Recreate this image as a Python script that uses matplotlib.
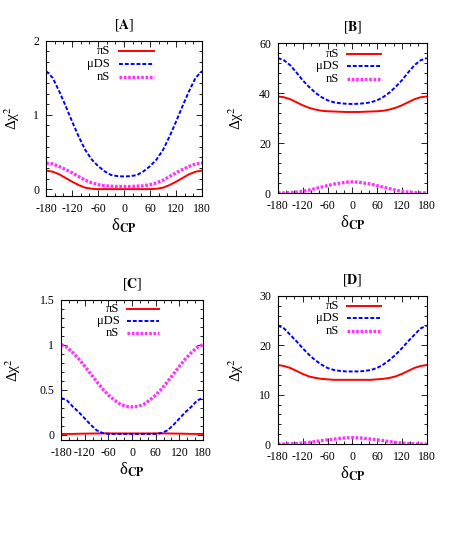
import matplotlib
matplotlib.use("Agg")
import matplotlib.pyplot as plt
from matplotlib.ticker import MultipleLocator, AutoMinorLocator, FuncFormatter

plt.rcParams['font.family'] = ['Liberation Serif', 'DejaVu Serif']
plt.rcParams['mathtext.fontset'] = 'stix'
plt.rcParams['axes.unicode_minus'] = False

# delta_CP grid (degrees)
delta = [-180, -165, -150, -135, -120, -105, -90, -75, -60, -45, -30, -15, 0,
         15, 30, 45, 60, 75, 90, 105, 120, 135, 150, 165, 180]

# panel A
a_piS = [0.25, 0.235, 0.20, 0.15, 0.10, 0.055, 0.02, 0.005, 0.0, 0.0, 0.0, 0.0, 0.0,
         0.0, 0.0, 0.0, 0.0, 0.005, 0.02, 0.055, 0.10, 0.15, 0.20, 0.235, 0.25]
a_muDS = [1.59, 1.50, 1.32, 1.12, 0.91, 0.71, 0.53, 0.40, 0.31, 0.24, 0.19, 0.175, 0.17,
          0.175, 0.19, 0.24, 0.31, 0.40, 0.53, 0.71, 0.91, 1.12, 1.32, 1.50, 1.59]
a_nS = [0.35, 0.34, 0.305, 0.265, 0.22, 0.17, 0.12, 0.085, 0.06, 0.045, 0.04, 0.035, 0.035,
        0.035, 0.04, 0.045, 0.06, 0.085, 0.12, 0.17, 0.22, 0.265, 0.305, 0.34, 0.35]

# panel B
b_piS = [38.7, 38.4, 37.6, 36.4, 35.2, 34.2, 33.5, 33.0, 32.8, 32.7, 32.6, 32.5, 32.5,
         32.5, 32.6, 32.7, 32.8, 33.0, 33.5, 34.2, 35.2, 36.4, 37.6, 38.4, 38.7]
b_muDS = [54.1, 53.2, 51.2, 48.3, 45.2, 42.6, 40.3, 38.5, 37.2, 36.4, 36.0, 35.8, 35.7,
          35.8, 36.0, 36.4, 37.2, 38.5, 40.3, 42.6, 45.2, 48.3, 51.2, 53.2, 54.1]
b_nS = [0.1, 0.1, 0.2, 0.4, 0.7, 1.2, 1.8, 2.4, 3.0, 3.6, 4.0, 4.4, 4.5,
        4.4, 4.0, 3.6, 3.0, 2.4, 1.8, 1.2, 0.7, 0.4, 0.2, 0.1, 0.1]

# panel C
c_piS = [0.01, 0.01, 0.01, 0.012, 0.013, 0.014, 0.015, 0.016, 0.016, 0.015, 0.015, 0.015, 0.015,
         0.015, 0.015, 0.015, 0.016, 0.016, 0.015, 0.014, 0.013, 0.012, 0.01, 0.01, 0.01]
c_muDS = [0.41, 0.38, 0.31, 0.25, 0.18, 0.11, 0.05, 0.02, 0.01, 0.01, 0.01, 0.01, 0.01,
          0.01, 0.01, 0.01, 0.01, 0.02, 0.05, 0.11, 0.18, 0.25, 0.31, 0.38, 0.41]
c_nS = [1.0, 0.97, 0.91, 0.84, 0.76, 0.675, 0.59, 0.51, 0.44, 0.385, 0.34, 0.315, 0.31,
        0.315, 0.34, 0.385, 0.44, 0.51, 0.59, 0.675, 0.76, 0.84, 0.91, 0.97, 1.0]

# panel D
d_piS = [16.0, 15.8, 15.4, 14.8, 14.2, 13.7, 13.4, 13.2, 13.1, 13.0, 13.0, 13.0, 13.0,
         13.0, 13.0, 13.0, 13.1, 13.2, 13.4, 13.7, 14.2, 14.8, 15.4, 15.8, 16.0]
d_muDS = [24.0, 23.4, 22.1, 20.8, 19.4, 18.1, 17.0, 16.1, 15.4, 15.0, 14.8, 14.7, 14.7,
          14.7, 14.8, 15.0, 15.4, 16.1, 17.0, 18.1, 19.4, 20.8, 22.1, 23.4, 24.0]
d_nS = [0.0, 0.02, 0.05, 0.1, 0.2, 0.33, 0.5, 0.68, 0.85, 1.0, 1.15, 1.25, 1.3,
        1.25, 1.15, 1.0, 0.85, 0.68, 0.5, 0.33, 0.2, 0.1, 0.05, 0.02, 0.0]

labels = ['πS', 'μDS', 'nS']
colors = ['#ff0000', '#0000ff', '#ff33ff']
styles = [dict(ls='-', lw=1.4),
          dict(ls=(0, (2.0, 1.0)), lw=1.4),
          dict(ls=(0, (0.8, 0.5)), lw=2.4)]

# name, series, ylim, major, minor count, axes rect, ylabel x (axes coords)
panels = [
    ('A', [a_piS, a_muDS, a_nS], (-0.09, 2), 1, 7, [0.098, 0.634, 0.331, 0.290], -0.155),
    ('B', [b_piS, b_muDS, b_nS], (0, 60), 20, 5, [0.590, 0.639, 0.316, 0.280], -0.215),
    ('C', [c_piS, c_muDS, c_nS], (-0.055, 1.5), 0.5, 5, [0.130, 0.178, 0.301, 0.262], -0.27),
    ('D', [d_piS, d_muDS, d_nS], (0, 30), 10, 5, [0.590, 0.170, 0.316, 0.277], -0.215),
]

fig = plt.figure(figsize=(4.71, 5.35), dpi=100)

for name, series, ylim, major, nminor, rect, ylx in panels:
    ax = fig.add_axes(rect)
    for y, c, st in zip(series, colors, styles):
        ax.plot(delta, y, color=c, **st)

    ax.set_xlim(-180, 180)
    ax.set_ylim(*ylim)
    ax.xaxis.set_major_locator(MultipleLocator(60))
    ax.xaxis.set_minor_locator(MultipleLocator(20))
    ax.yaxis.set_major_locator(MultipleLocator(major))
    ax.yaxis.set_minor_locator(AutoMinorLocator(nminor))
    fmt = FuncFormatter(lambda v, p: '%g' % (0 if abs(v) < 1e-9 else v))
    ax.xaxis.set_major_formatter(fmt)
    ax.yaxis.set_major_formatter(fmt)
    ax.tick_params(which='both', direction='in', top=True, right=True,
                   labelsize=8.5, width=0.6)
    ax.tick_params(axis='x', pad=5)
    ax.tick_params(axis='y', pad=5)
    ax.tick_params(which='major', length=4)
    ax.tick_params(which='minor', length=2)
    for sp in ax.spines.values():
        sp.set_linewidth(0.8)

    ax.set_title('[$\\mathbf{%s}$]' % name, fontsize=10, pad=9)
    ax.set_xlabel('δ$_{\\mathbf{CP}}$', fontsize=12, labelpad=1)
    ax.set_ylabel('Δχ$^2$', fontsize=11)
    ax.yaxis.set_label_coords(ylx, 0.5)

    # key in gnuplot style: text right-aligned, sample to the right
    for i, (lab, c, st) in enumerate(zip(labels, colors, styles)):
        yk = 0.932 - 0.084 * i
        ax.text(0.41, yk, lab, transform=ax.transAxes, ha='right', va='center',
                fontsize=9)
        ax.plot([0.465, 0.69], [yk, yk], transform=ax.transAxes, color=c, **st)

fig.savefig('out.png', dpi=100)
